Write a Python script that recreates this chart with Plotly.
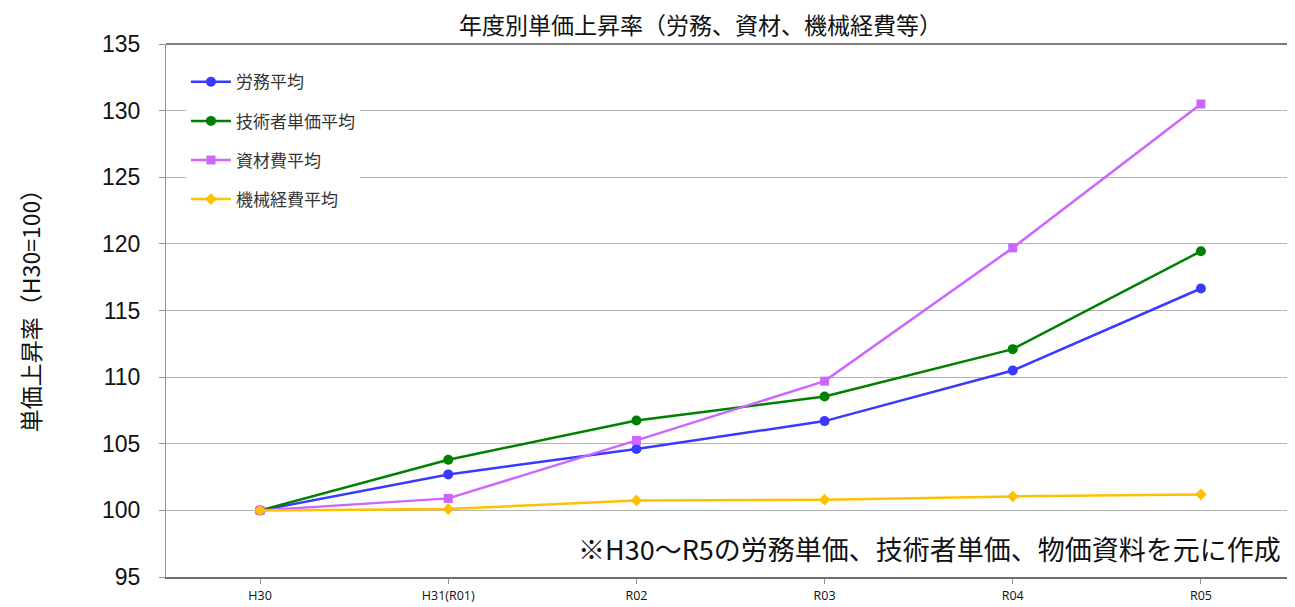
import plotly.graph_objects as go

categories = ["H30", "H31(R01)", "R02", "R03", "R04", "R05"]
labor = [100, 102.7, 104.6, 106.7, 110.5, 116.65]
engineer = [100, 103.8, 106.75, 108.55, 112.1, 119.45]
material = [100, 100.9, 105.25, 109.7, 119.7, 130.5]
machine = [100, 100.1, 100.75, 100.8, 101.05, 101.2]

series = [
    ("労務平均", labor, "#3a3aff", "circle", 10),
    ("技術者単価平均", engineer, "#008000", "circle", 10),
    ("資材費平均", material, "#cc66ff", "square", 9),
    ("機械経費平均", machine, "#ffc000", "diamond", 9),
]

fig = go.Figure()
for i, (name, vals, color, sym, sz) in enumerate(series):
    fig.add_trace(go.Scatter(
        x=list(range(len(categories))), y=vals, name=name, mode="lines+markers",
        line=dict(color=color, width=2.5),
        marker=dict(color=color, symbol=sym, size=sz),
        legendgroup=f"g{i}",
    ))

jp = "Noto Sans CJK JP"
# page body has an 8px margin, so the figure is 8px smaller than the window
fig.update_layout(
    width=1287, height=599,
    margin=dict(l=158, r=0, t=36, b=30),
    paper_bgcolor="white", plot_bgcolor="white",
    showlegend=True,
    legend=dict(
        x=0.0177, y=0.962, xanchor="left", yanchor="top",
        bgcolor="white", font=dict(family=jp, size=17, color="#333333"),
        tracegroupgap=14, traceorder="grouped",
        itemwidth=40,
    ),
    xaxis=dict(
        range=[-0.5, 5.5], tickmode="array",
        tickvals=list(range(len(categories))), ticktext=categories,
        showgrid=False, showline=True, linecolor="#707070", linewidth=2,
        ticks="outside", ticklen=5, tickcolor="#909090",
        tickfont=dict(family="Open Sans", size=12.5, color="#111111"),
        ticklabelstandoff=1,
        zeroline=False, automargin=False, tickson="boundaries",
    ),
    yaxis=dict(
        range=[95, 135], dtick=5, tick0=95,
        showgrid=True, gridcolor="#b5b5b5", gridwidth=1,
        showline=True, linecolor="#909090", linewidth=1,
        ticks="outside", ticklen=6, tickcolor="#909090",
        tickfont=dict(family="Liberation Sans", size=23, color="#111111"),
        ticklabelstandoff=14,
        zeroline=False, automargin=False,
    ),
)

# top border line
fig.add_shape(type="line", xref="paper", yref="paper", x0=0, x1=1, y0=1, y1=1,
              line=dict(color="#505050", width=1.5))

fig.add_annotation(
    text="年度別単価上昇率（労務、資材、機械経費等）",
    xref="paper", yref="paper", x=0.473, y=1.037, xanchor="center", yanchor="middle",
    showarrow=False, font=dict(family=jp, size=23, color="#111111"),
)

fig.add_annotation(
    text="単価上昇率（H30=100）",
    xref="paper", yref="paper", x=-0.1205, y=0.51, xanchor="center", yanchor="middle",
    textangle=-90, showarrow=False, font=dict(family=jp, size=23, color="#111111"),
)

fig.add_annotation(
    text="※H30～R5の労務単価、技術者単価、物価資料を元に作成",
    xref="paper", yref="paper", x=0.9894, y=0.0544, xanchor="right", yanchor="middle",
    showarrow=False, font=dict(family=jp, size=27, color="#111111"),
)

fig.write_html("out.html")
